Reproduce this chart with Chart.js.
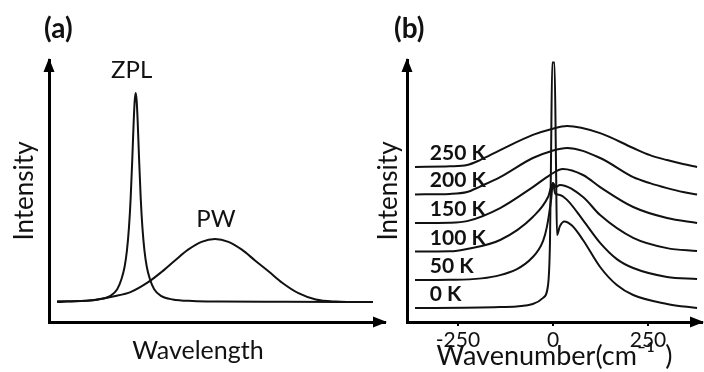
<!DOCTYPE html>
<html>
<head>
<meta charset="utf-8">
<script src="https://cdn.jsdelivr.net/npm/chart.js"></script>
<style>
  body { margin: 0; background: #fff; }
  #wrap { position: relative; width: 704px; height: 372px; overflow: hidden; }
  canvas { position: absolute; top: 0; }
  #chartA { left: 0; }
  #chartB { left: 360px; }
</style>
</head>
<body>
<div id="wrap">
  <canvas id="chartA" width="392" height="372"></canvas>
  <canvas id="chartB" width="344" height="372"></canvas>
</div>
<script>
// Panel (a): zero-phonon line and phonon wing (arbitrary units)
const zplX = [2.4, 8.8, 14.8, 18.3, 20.3, 21.6, 22.5, 23.2, 23.8, 24.3, 24.8, 25.2, 25.5, 25.8, 26.1, 26.4, 26.8, 27.3, 27.8, 28.4, 29.1, 30.0, 31.3, 33.3, 36.8, 42.8, 50.8, 70, 96.4];
const zplY = [7.9, 8.0, 8.6, 10.0, 12.5, 16.5, 21.1, 27.3, 36.1, 47.2, 62.6, 76.3, 84.3, 87.4, 84.3, 76.3, 62.6, 47.2, 36.1, 27.3, 21.1, 16.5, 12.5, 10.0, 8.6, 8.0, 7.8, 7.7, 7.6];
const pwX = [2.4, 5.4, 13.4, 19.4, 24.4, 29.4, 33.4, 37.4, 41.4, 45.4, 49.4, 53.4, 57.4, 61.4, 65.4, 69.4, 74.4, 79.4, 85.4, 93.4, 96.4];
const pwY = [7.6, 7.8, 8.4, 9.8, 11.5, 15.1, 19.0, 23.4, 27.6, 30.6, 31.7, 30.6, 27.6, 23.4, 19.3, 15.0, 10.9, 8.6, 7.8, 7.6, 7.6];

// Panel (b): spectra vs wavenumber, offset upward with temperature
const tempLabels = ['0 K', '50 K', '100 K', '150 K', '200 K', '250 K'];
const k0X = [-363, -139, -53, -26, -13, -8, -5.3, -2, 4, 8, 10.5, 18, 30, 50, 79, 124, 168, 211, 300, 379];
const k0Y = [5.3, 5.7, 6.9, 9.2, 14.1, 30, 60, 99, 99, 60, 33.2, 36.5, 38.4, 36.8, 31.3, 21.0, 14.1, 10.3, 6.9, 5.3];
const k50X = [-363, -271, -139, -53, -26, -16, -5, 0, 6, 18, 37, 79, 124, 168, 211, 300, 379];
const k50Y = [16.0, 16.1, 17.9, 24.8, 31.0, 36.3, 46.6, 53.1, 49.0, 48.5, 46.6, 38.9, 30.2, 24.0, 20.6, 17.2, 16.4];
const k100X = [-363, -271, -226, -139, -53, -13, 0, 8, 18, 79, 124, 211, 300, 379];
const k100Y = [26.9, 27.0, 27.9, 31.3, 40.1, 47.7, 53.1, 51.5, 52.3, 47.7, 40.8, 32.1, 28.2, 27.1];
const k150X = [-363, -271, -226, -139, -53, -8, 26, 79, 124, 211, 300, 379];
const k150Y = [37.8, 37.9, 38.5, 43.5, 51.5, 56.1, 58.4, 56.1, 51.5, 43.9, 39.7, 37.8];
const k200X = [-363, -271, -226, -192, -139, -53, -3, 37, 124, 211, 255, 300, 342, 379];
const k200Y = [48.7, 48.9, 49.6, 51.7, 55.3, 62.6, 65.3, 66.4, 62.6, 55.3, 53.0, 51.1, 49.6, 48.7];
const k250X = [-363, -271, -226, -192, -139, -53, -3, 37, 124, 211, 255, 300, 342, 379];
const k250Y = [59.2, 59.4, 59.9, 61.8, 65.6, 71.4, 73.7, 74.8, 72.1, 66.4, 63.7, 61.8, 60.3, 59.2];
const xTickValues = [-250, 0, 250];

const FONT = 'Lato, "Open Sans", sans-serif';
const INK = '#111';
Chart.defaults.font.family = FONT;
Chart.defaults.color = INK;

function toPoints(xs, ys) {
    return xs.map((x, i) => ({ x: x, y: ys[i] }));
}

function curve(xs, ys) {
    return {
        data: toPoints(xs, ys),
        borderColor: INK,
        borderWidth: 2,
        pointRadius: 0,
        cubicInterpolationMode: 'monotone',
        fill: false
    };
}

// Arrow heads at the top of the y axis and the end of the x axis
const axisArrows = {
    id: 'axisArrows',
    afterDraw(chart) {
        const { ctx, chartArea: { left, top, right, bottom } } = chart;
        ctx.save();
        ctx.fillStyle = '#000';
        ctx.beginPath();
        ctx.moveTo(left, top - 2);
        ctx.lineTo(left - 5.5, top + 12);
        ctx.lineTo(left + 5.5, top + 12);
        ctx.closePath();
        ctx.moveTo(right + 2, bottom);
        ctx.lineTo(right - 12, bottom - 5.5);
        ctx.lineTo(right - 12, bottom + 5.5);
        ctx.closePath();
        ctx.fill();
        ctx.restore();
    }
};

function peakOf(ds) {
    return ds.data.reduce((a, b) => (b.y > a.y ? b : a));
}

const panelALabels = {
    id: 'panelALabels',
    afterDraw(chart) {
        const { ctx, scales: { x, y } } = chart;
        const [zpl, pw] = chart.data.datasets.map(peakOf);
        ctx.save();
        ctx.fillStyle = INK;
        ctx.textBaseline = 'alphabetic';
        ctx.font = `bold 28px ${FONT}`;
        ctx.fillText('(a)', 44, 38);
        ctx.textAlign = 'center';
        ctx.font = `24px ${FONT}`;
        ctx.fillText('ZPL', x.getPixelForValue(zpl.x) - 4, y.getPixelForValue(zpl.y) - 15);
        ctx.fillText('PW', x.getPixelForValue(pw.x) + 1, y.getPixelForValue(pw.y) - 12);
        ctx.font = `25px ${FONT}`;
        ctx.fillText('Wavelength', 198, 359);
        ctx.restore();
    }
};

const panelBLabels = {
    id: 'panelBLabels',
    afterDraw(chart) {
        const { ctx, scales: { x, y } } = chart;
        ctx.save();
        ctx.fillStyle = INK;
        ctx.textBaseline = 'alphabetic';
        ctx.font = `bold 28px ${FONT}`;
        ctx.fillText('(b)', 34, 38);
        ctx.font = `bold 21px ${FONT}`;
        chart.data.datasets.forEach((ds, i) => {
            const base = y.getPixelForValue(ds.data[0].y);
            ctx.fillText(tempLabels[i], x.getPixelForValue(-324), base - 7);
        });
        ctx.restore();
    }
};

const axisBorder = { display: true, width: 3, color: '#000' };

new Chart(document.getElementById('chartA'), {
    type: 'line',
    data: { datasets: [curve(zplX, zplY), curve(pwX, pwY)] },
    options: {
        responsive: false,
        animation: false,
        layout: { padding: { top: 60, right: 7 } },
        plugins: { legend: { display: false }, tooltip: { enabled: false } },
        scales: {
            x: {
                type: 'linear', min: 0, max: 100,
                ticks: { display: false },
                grid: { display: false },
                border: axisBorder,
                afterFit: s => { s.height = 50; }
            },
            y: {
                min: 0, max: 100,
                ticks: { display: false },
                grid: { display: false },
                border: axisBorder,
                title: { display: true, text: 'Intensity', font: { size: 26 }, padding: { top: 9, bottom: 0 } },
                afterFit: s => { s.width = 49; }
            }
        }
    },
    plugins: [axisArrows, panelALabels]
});

new Chart(document.getElementById('chartB'), {
    type: 'line',
    data: {
        datasets: [
            curve(k0X, k0Y), curve(k50X, k50Y), curve(k100X, k100Y),
            curve(k150X, k150Y), curve(k200X, k200Y), curve(k250X, k250Y)
        ]
    },
    options: {
        responsive: false,
        animation: false,
        layout: { padding: { top: 60, right: 2 } },
        plugins: { legend: { display: false }, tooltip: { enabled: false } },
        scales: {
            x: {
                type: 'linear', min: -384, max: 392,
                afterBuildTicks: s => { s.ticks = xTickValues.map(v => ({ value: v })); },
                ticks: { font: { size: 21 }, color: INK, padding: 2, autoSkip: false, maxRotation: 0 },
                grid: { display: true, drawOnChartArea: false, drawTicks: true, tickLength: 4, color: '#000', lineWidth: 2 },
                border: axisBorder,
                title: { display: true, text: 'Wavenumber(cm\u207B\u00B9\u2009 )', font: { size: 27 }, padding: { top: 0, bottom: 0 } },
                afterFit: s => { s.height = 50; }
            },
            y: {
                min: 0, max: 100,
                ticks: { display: false },
                grid: { display: false },
                border: axisBorder,
                title: { display: true, text: 'Intensity', font: { size: 26 }, padding: { top: 13, bottom: 0 } },
                afterFit: s => { s.width = 47; }
            }
        }
    },
    plugins: [axisArrows, panelBLabels]
});
</script>
</body>
</html>
